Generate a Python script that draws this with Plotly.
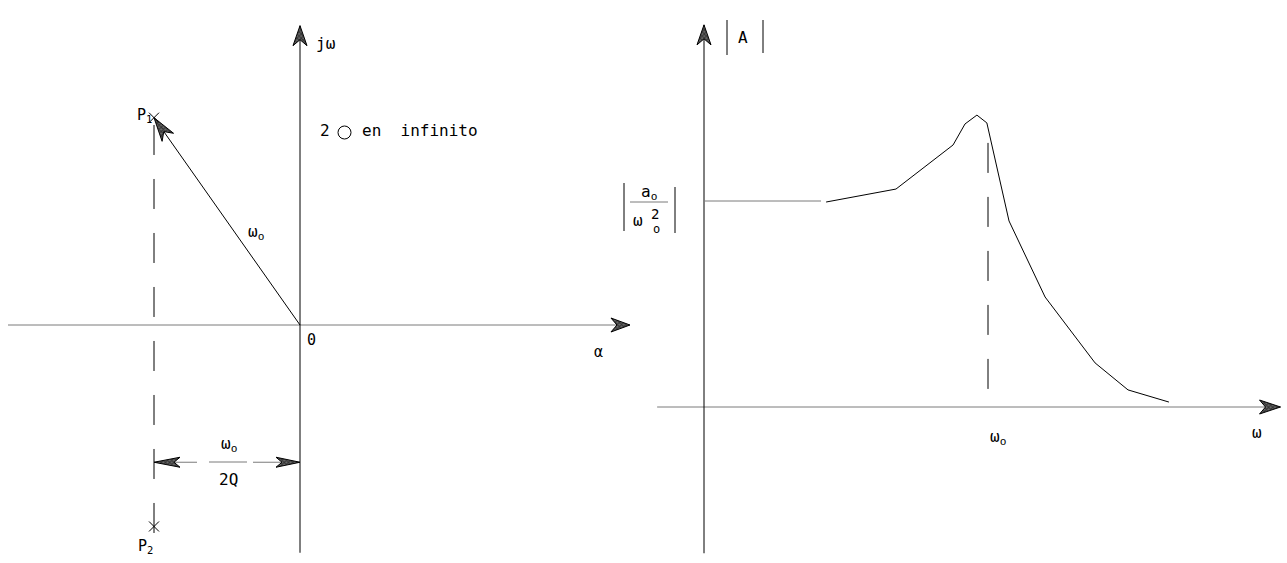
import math
import plotly.graph_objects as go

W, H = 1287, 563

# ---------- pole-zero plot in the s-plane (units of w0/2Q) ----------
sigma_axis = [-2.0, 2.26]        # real axis (alpha) extent
jw_axis = [-1.56, 2.05]          # imaginary axis (jw) extent
pole_p1 = (-1.0, 1.42)
pole_p2 = (-1.0, -1.38)
guide_bottom = -1.58             # lower end of the dashed guide through the poles
guide_top = 1.37
dim_level = -0.94                # height of the w0/2Q dimension line

# ---------- magnitude response (w in units of w0, |A| in units of a0/w0^2) ----------
w_axis = [-0.165, 2.03]
a_axis = [-0.71, 1.855]
w_flat = [0.0, 0.412]
a_flat = [1.0, 1.0]
w_resp = [0.430, 0.676, 0.877, 0.919, 0.961, 0.996, 1.074, 1.201, 1.377, 1.493, 1.637]
a_resp = [0.995, 1.058, 1.272, 1.374, 1.417, 1.379, 0.903, 0.534, 0.214, 0.083, 0.024]
w_peak_guide = [1.0, 1.0]
a_peak_guide = [1.282, 0.0]

# screen placement of the two panels
S_OX, S_OY, S_K = 300, 325, 146
F_OX, F_OY, F_KX, F_KY = 704, 407, 284, 206

INK = "#000000"
GREY = "#7a7a7a"
FONT = "DejaVu Sans Mono"


def s_px(x, y):
    return S_OX + S_K * x, S_OY - S_K * y


def px_s(px, py):
    return (px - S_OX) / S_K, (S_OY - py) / S_K


def f_px(x, y):
    return F_OX + F_KX * x, F_OY - F_KY * y


def px_f(px, py):
    return (px - F_OX) / F_KX, (F_OY - py) / F_KY


fig = go.Figure()


def axes_of(panel):
    return dict(xaxis="x", yaxis="y") if panel == "s" else dict(xaxis="x2", yaxis="y2")


def line(xs, ys, panel, color=INK, width=1, dash=None):
    fig.add_trace(go.Scatter(x=xs, y=ys, mode="lines", hoverinfo="skip",
                             line=dict(color=color, width=width, dash=dash),
                             showlegend=False, **axes_of(panel)))


def head(tip, tail, panel, length=20, half=7, notch=6):
    """Notched, cross-hatched arrowhead whose point sits on `tip`."""
    to_px, from_px = (s_px, px_s) if panel == "s" else (f_px, px_f)
    tx, ty = to_px(*tip)
    bx, by = to_px(*tail)
    d = math.hypot(tx - bx, ty - by)
    ux, uy = (tx - bx) / d, (ty - by) / d
    nx, ny = -uy, ux
    pts = [(tx, ty),
           (tx - length * ux + half * nx, ty - length * uy + half * ny),
           (tx - (length - notch) * ux, ty - (length - notch) * uy),
           (tx - length * ux - half * nx, ty - length * uy - half * ny),
           (tx, ty)]
    data = [from_px(px, py) for px, py in pts]
    fig.add_trace(go.Scatter(x=[p[0] for p in data], y=[p[1] for p in data],
                             mode="lines", fill="toself", fillcolor="#333333",
                             fillpattern=dict(shape="x", size=3, solidity=0.6,
                                              fgcolor="#000000", bgcolor="#6a6a6a"),
                             line=dict(color=INK, width=1), hoverinfo="skip",
                             showlegend=False, **axes_of(panel)))


# ----- s-plane -----
line(sigma_axis, [0, 0], "s", color=GREY)
head((sigma_axis[1], 0), (0, 0), "s", length=19, half=7)
line([0, 0], jw_axis, "s")
head((0, jw_axis[1]), (0, 0), "s", length=20, half=7)
line([pole_p1[0], pole_p1[0]], [guide_top, guide_bottom], "s", dash="30px,24px")
line([0, pole_p1[0]], [0, pole_p1[1]], "s")
head(pole_p1, (0, 0), "s", length=24, half=7, notch=7)
fig.add_trace(go.Scatter(x=[pole_p1[0], pole_p2[0]], y=[pole_p1[1], pole_p2[1]],
                         mode="markers", hoverinfo="skip", showlegend=False,
                         marker=dict(symbol="x-thin", size=10, color=INK,
                                     line=dict(color=INK, width=1))))

# dimension w0/2Q between the pole guide and the jw axis
gap_l, gap_r = px_s(197, 0)[0], px_s(253, 0)[0]
line([pole_p1[0], gap_l], [dim_level, dim_level], "s", color=GREY)
line([gap_r, 0], [dim_level, dim_level], "s", color=GREY)
head((pole_p1[0], dim_level), (0, dim_level), "s", length=26, half=5, notch=6)
head((0, dim_level), (pole_p1[0], dim_level), "s", length=24, half=5, notch=6)

# ----- magnitude response -----
line(w_axis, [0, 0], "f", color=GREY)
head((w_axis[1], 0), (0, 0), "f", length=21, half=7)
line([0, 0], a_axis, "f")
head((0, a_axis[1]), (0, 0), "f", length=20, half=7)
line(w_flat, a_flat, "f", color=GREY)
line(w_resp, a_resp, "f")
line(w_peak_guide, a_peak_guide, "f", dash="30px,24px")

# ----- text -----
ann = []


def text(s, px, py, size=16, anchor="center"):
    ann.append(dict(text=s, x=px / W, y=1 - py / H, xref="paper", yref="paper",
                    showarrow=False, xanchor=anchor, yanchor="middle",
                    font=dict(family=FONT, size=size, color=INK)))


text("jω", 314, 44, anchor="left")
text("0", 311, 340, size=15)
text("α", 598, 352, size=15)
text("P<sub>1</sub>", 144, 115, size=15)
text("P<sub>2</sub>", 145, 546, size=15)
text("ω<sub>o</sub>", 256, 233, size=16)
text("2", 325, 130, size=16)
text("en  infinito", 360, 130, size=16, anchor="left")
text("ω<sub>o</sub>", 229, 444, size=16)
text("2Q", 228, 480, size=16)
text("A", 743, 37, size=16)
text("a<sub>o</sub>", 649, 192, size=16)
text("ω", 638, 221, size=16)
text("2", 655, 214, size=14)
text("o", 656, 229, size=12)
text("ω<sub>o</sub>", 998, 437, size=16)
text("ω", 1257, 432, size=16)

shapes = []


def seg(x0, y0, x1, y1, color=INK):
    shapes.append(dict(type="line", x0=x0 / W, x1=x1 / W, y0=1 - y0 / H, y1=1 - y1 / H,
                       xref="paper", yref="paper", line=dict(color=color, width=1)))


seg(209, 462, 247, 462, GREY)          # w0 / 2Q bar
seg(727, 20, 727, 55)                  # |A|
seg(763, 20, 763, 53)
seg(624, 183, 624, 231)                # |a0 / w0^2|
seg(675, 187, 675, 233)
seg(630, 202, 668, 202, GREY)
shapes.append(dict(type="circle", xref="paper", yref="paper",
                   x0=338 / W, x1=351 / W, y0=1 - 139 / H, y1=1 - 126 / H,
                   line=dict(color=INK, width=1)))

fig.update_layout(
    width=W, height=H, margin=dict(l=0, r=0, t=0, b=0, pad=0),
    paper_bgcolor="white", plot_bgcolor="white",
    xaxis=dict(range=[px_s(0, 0)[0], px_s(W, 0)[0]], visible=False, domain=[0, 1]),
    yaxis=dict(range=[px_s(0, H)[1], px_s(0, 0)[1]], visible=False, domain=[0, 1]),
    xaxis2=dict(range=[px_f(0, 0)[0], px_f(W, 0)[0]], visible=False,
                overlaying="x", domain=[0, 1]),
    yaxis2=dict(range=[px_f(0, H)[1], px_f(0, 0)[1]], visible=False,
                overlaying="y", domain=[0, 1]),
    annotations=ann, shapes=shapes, showlegend=False,
)

fig.write_html("out.html")
